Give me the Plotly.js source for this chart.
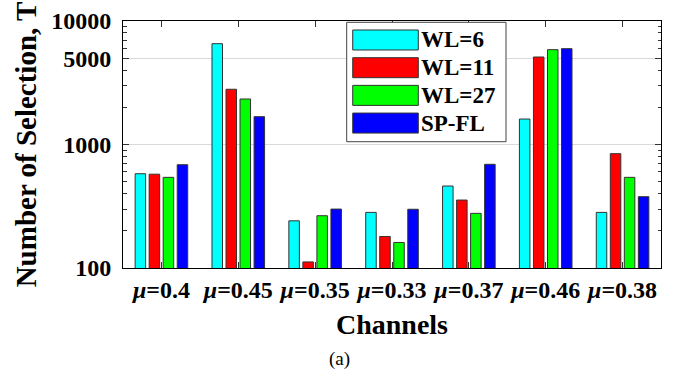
<!DOCTYPE html>
<html>
<head>
<meta charset="utf-8">
<script src="https://cdn.plot.ly/plotly-3.0.1.min.js"></script>
<style>html,body{margin:0;padding:0;background:#fff;}#chart{width:678px;height:370px;}</style>
</head>
<body>
<div id="chart"></div>
<script>
// Data
const channels = ['<i>μ</i>=0.4', '<i>μ</i>=0.45', '<i>μ</i>=0.35', '<i>μ</i>=0.33', '<i>μ</i>=0.37', '<i>μ</i>=0.46', '<i>μ</i>=0.38'];
const seriesNames = ['WL=6', 'WL=11', 'WL=27', 'SP-FL'];
const wl6  = [580, 6550, 241, 282, 461, 1608, 282];
const wl11 = [575, 2800, 112, 180, 355, 5110, 843];
const wl27 = [542, 2336, 265, 161, 277, 5860, 542];
const spfl = [686, 1680, 300, 299, 691, 5970, 378];
const yTickVals = [100, 1000, 5000, 10000];
const yTickText = ['100', '1000', '5000', '10000'];

const seriesValues = [wl6, wl11, wl27, spfl];
const colors = ['#00ffff', '#ff0000', '#00ff00', '#0000ff'];
const FONT = '"Liberation Serif", "Times New Roman", serif';

const traces = seriesValues.map((vals, i) => ({
  type: 'bar',
  name: seriesNames[i],
  x: channels,
  y: vals,
  marker: {color: colors[i], line: {color: '#333', width: 1}}
}));

// Custom legend (long rectangular swatches like the reference), in paper coordinates
const legBox = {x0: 0.4158, x1: 0.7119, y0: 0.5113, y1: 0.9947};
const legSwatch = {x0: 0.4270, x1: 0.5489, halfH: 0.0405, yTop: 0.9231, pitch: 0.1121};
const shapes = [{
  type: 'rect', xref: 'paper', yref: 'paper',
  x0: legBox.x0, x1: legBox.x1, y0: legBox.y0, y1: legBox.y1,
  fillcolor: '#fff', line: {color: '#444', width: 1}, layer: 'above'
}];
const annotations = [];
seriesNames.forEach((name, i) => {
  const yc = legSwatch.yTop - i * legSwatch.pitch;
  shapes.push({
    type: 'rect', xref: 'paper', yref: 'paper',
    x0: legSwatch.x0, x1: legSwatch.x1, y0: yc - legSwatch.halfH, y1: yc + legSwatch.halfH,
    fillcolor: colors[i], line: {color: '#333', width: 1}, layer: 'above'
  });
  annotations.push({
    text: '<b>' + name + '</b>', xref: 'paper', yref: 'paper', x: 0.551, y: yc,
    xanchor: 'left', yanchor: 'middle', showarrow: false,
    font: {family: FONT, size: 23, color: '#000'}
  });
});
annotations.push({
  text: '(a)', xref: 'paper', yref: 'paper', x: 0.4015, y: -0.368,
  xanchor: 'center', yanchor: 'middle', showarrow: false,
  font: {family: FONT, size: 19, color: '#000'}
});

const layout = {
  width: 678, height: 370,
  margin: {l: 123, r: 17, t: 21, b: 102},
  paper_bgcolor: '#fff', plot_bgcolor: '#fff',
  barmode: 'group', bargap: 0.27, bargroupgap: 0.25,
  font: {family: FONT, color: '#000'},
  showlegend: false,
  xaxis: {
    type: 'category',
    showline: true, linecolor: '#000', linewidth: 1, mirror: 'ticks',
    ticks: 'inside', ticklen: 6, tickcolor: '#333',
    tickfont: {family: FONT, size: 24, weight: 'bold', color: '#000'},
    title: {text: 'Channels', font: {family: FONT, size: 28, weight: 'bold'}, standoff: 12},
    automargin: false
  },
  yaxis: {
    type: 'log', range: [2, 4],
    tickvals: yTickVals, ticktext: yTickText,
    showline: true, linecolor: '#000', linewidth: 1, mirror: 'ticks',
    ticks: 'inside', ticklen: 6, tickcolor: '#333',
    showgrid: true, gridcolor: '#d9d9d9', gridwidth: 1,
    minor: {ticks: 'inside', ticklen: 3.5, tickcolor: '#333', dtick: 'D1', showgrid: false},
    tickfont: {family: FONT, size: 24, weight: 'bold', color: '#000'},
    ticklabelstandoff: 6,
    title: {text: 'Number of Selection, T', font: {family: FONT, size: 29, weight: 'bold'}, standoff: 6},
    automargin: false, zeroline: false
  },
  shapes: shapes,
  annotations: annotations
};

Plotly.newPlot('chart', traces, layout, {staticPlot: true, displayModeBar: false});
</script>
</body>
</html>
